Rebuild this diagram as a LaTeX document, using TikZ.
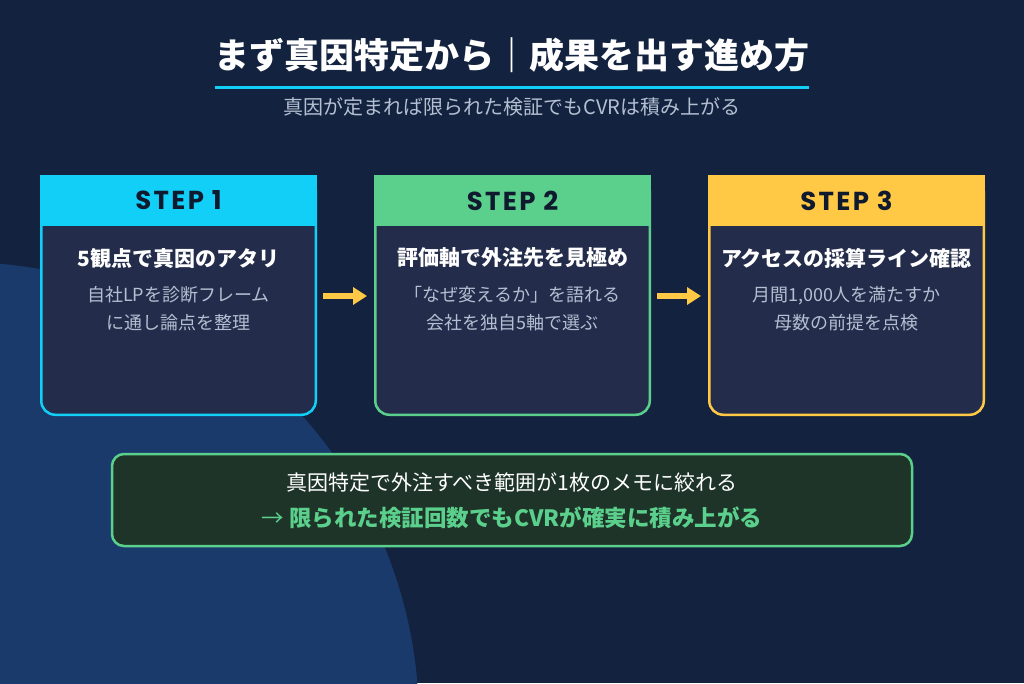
\documentclass[tikz,border=0pt]{standalone}
\usepackage{fontspec}
\setmainfont{Noto Sans CJK JP}
\newfontfamily\stepfont{Poppins}[LetterSpace=9]
\usepackage{tikz}
\usetikzlibrary{arrows.meta, positioning, calc}

\definecolor{bgnavy}{HTML}{13233F}
\definecolor{bgblob}{HTML}{1B3A6C}
\definecolor{cardbody}{HTML}{232C4A}
\definecolor{stepcyan}{HTML}{12CFF8}
\definecolor{stepgreen}{HTML}{5BD08C}
\definecolor{stepyellow}{HTML}{FFC845}
\definecolor{labelink}{HTML}{101A2E}
\definecolor{subgray}{HTML}{B5BFD2}
\definecolor{notefill}{HTML}{1E3428}

\newcommand{\setsz}[2]{\fontsize{#1pt}{#2pt}\selectfont}

\begin{document}
\begin{tikzpicture}[x=1pt, y=-1pt,
    card/.style={draw=#1, fill=cardbody, line width=2.5pt, rounded corners=14pt,
        minimum width=274.5pt, minimum height=237.5pt, inner sep=0pt},
    cardhead/.style={fill=#1, minimum width=277pt, minimum height=51pt, inner sep=0pt,
        anchor=north, text=labelink, font=\stepfont\bfseries\setsz{26}{30}},
    cardtitle/.style={text=white, font=\bfseries\setsz{21}{25}},
    carddesc/.style={text=subgray, font=\setsz{18}{28}, align=center},
    nextarrow/.style={-{Triangle[length=14pt,width=17pt]}, line width=6pt, stepyellow,
        shorten <=6pt, shorten >=7pt}
]
    % Page and background blob
    \useasboundingbox (0,0) rectangle (1024,683);
    \clip (0,0) rectangle (1024,683);
    \fill[bgnavy] (0,0) rectangle (1024,683);
    \fill[bgblob] (-41,722) circle (460pt);

    % Title
    \node[text=white, font=\bfseries\setsz{35}{40}] (title) at (512,55) {まず真因特定から｜成果を出す進め方};
    \draw[stepcyan, line width=3pt] (215,87) -- (809,87);
    \node[text=subgray, font=\setsz{20}{24}] (subtitle) at (512,107) {真因が定まれば限られた検証でもCVRは積み上がる};

    % Step 1
    \node[card=stepcyan] (s1) at (178.5,296) {};
    \node[cardhead=stepcyan] (h1) at ([yshift=1.25pt]s1.north) {STEP 1};
    \node[cardtitle] (t1) at ([yshift=-82pt]s1.north) {5観点で真因のアタリ};
    \node[carddesc] (d1) at ([yshift=-133pt]s1.north) {自社LPを診断フレーム\\に通し論点を整理};

    % Step 2
    \node[card=stepgreen] (s2) at (512.5,296) {};
    \node[cardhead=stepgreen] (h2) at ([yshift=1.25pt]s2.north) {STEP 2};
    \node[cardtitle] (t2) at ([yshift=-82pt]s2.north) {評価軸で外注先を見極め};
    \node[carddesc] (d2) at ([yshift=-133pt]s2.north) {「なぜ変えるか」を語れる\\会社を独自5軸で選ぶ};

    % Step 3
    \node[card=stepyellow] (s3) at (846.5,296) {};
    \node[cardhead=stepyellow] (h3) at ([yshift=1.25pt]s3.north) {STEP 3};
    \node[cardtitle] (t3) at ([yshift=-82pt]s3.north) {アクセスの採算ライン確認};
    \node[carddesc] (d3) at ([yshift=-133pt]s3.north) {月間1,000人を満たすか\\母数の前提を点検};

    % Arrows between steps
    \draw[nextarrow] (s1.east) -- (s2.west);
    \draw[nextarrow] (s2.east) -- (s3.west);

    % Summary note
    \node[draw=stepgreen, fill=notefill, line width=2.5pt, rounded corners=12pt,
        minimum width=800pt, minimum height=92pt] (note) at (512,500) {};
    \node[text=white, font=\setsz{21}{25}] (n1) at ([yshift=18pt]note.center) {真因特定で外注すべき範囲が1枚のメモに絞れる};
    \node[text=stepgreen, font=\setsz{22.5}{26}] (n2) at ([yshift=-18pt]note.center) {→ \textbf{限られた検証回数でもCVRが確実に積み上がる}};
\end{tikzpicture}
\end{document}
